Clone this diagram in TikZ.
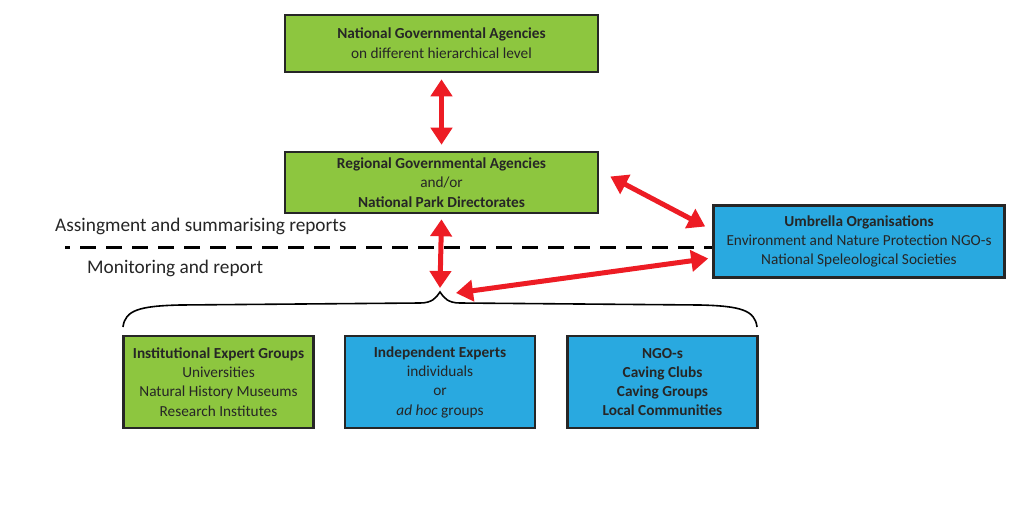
\documentclass[tikz,border=0pt]{standalone}
\usepackage{fontspec}
\setmainfont{Carlito}
\usetikzlibrary{arrows.meta,calc}
\definecolor{boxgreen}{HTML}{8DC63F}
\definecolor{boxblue}{HTML}{29A9E0}
\definecolor{arrred}{HTML}{ED1C24}
\definecolor{txt}{HTML}{262626}
\tikzset{
  box/.style={draw=black!85, line width=2.6pt, rectangle, align=center, text=txt,
    font=\fontsize{15.3}{19.3}\selectfont, inner sep=0pt},
  gbox/.style={box, fill=boxgreen},
  bbox/.style={box, fill=boxblue},
  redarrow/.style={draw=arrred, line width=5pt, {Triangle[width=21pt,length=17pt]}-{Triangle[width=21pt,length=17pt]}},
  sidelabel/.style={font=\fontsize{19.3}{22}\selectfont, text=txt, anchor=west, inner sep=0pt}
}
\begin{document}
\begin{tikzpicture}[x=1pt,y=-1pt]
\useasboundingbox[fill=white] (0,0) rectangle (1028,504);
\node[gbox, minimum width=313pt, minimum height=57pt, font=\fontsize{15.3}{20}\selectfont] (top) at (441.5,43.5)
  {\textbf{National Governmental Agencies}\\on different hierarchical level};
\node[gbox, minimum width=313pt, minimum height=61pt] (reg) at (441.5,182.5)
  {\textbf{Regional Governmental Agencies}\\and/or\\\textbf{National Park Directorates}};
\node[bbox, minimum width=291pt, minimum height=72pt] (umb) at (859,241.5)
  {\textbf{Umbrella Organisations}\\Environment and Nature Protection NGO-s\\National Speleological Societies};
\node[gbox, minimum width=190pt, minimum height=92pt] (inst) at (218.5,382)
  {\textbf{Institutional Expert Groups}\\Universities\\Natural History Museums\\Research Institutes};
\node[bbox, minimum width=190pt, minimum height=92pt] (ind) at (440,382)
  {\textbf{Independent Experts}\\individuals\\or\\\textit{ad hoc} groups};
\node[bbox, minimum width=190pt, minimum height=92pt] (ngo) at (662.5,382)
  {\textbf{NGO-s}\\\textbf{Caving Clubs}\\\textbf{Caving Groups}\\\textbf{Local Communities}};
\node[sidelabel] (lab1) at (55,226) {Assingment and summarising reports};
\node[sidelabel] (lab2) at (87,268) {Monitoring and report};
\coordinate (dstart) at (65,247);
\draw[black, line width=3pt, dash pattern=on 16pt off 10pt, dash phase=11pt] (dstart) -- (umb.west |- dstart);
\coordinate (tip) at (440,292);
\draw[black, line width=1.6pt]
  (123,327) .. controls (125,310) and (140,306) .. (180,305)
  -- (420,303) .. controls (432,303) and (436,298) .. (tip)
  .. controls (444,298) and (448,303) .. (460,303)
  -- (700,305) .. controls (740,306) and (755,310) .. (757,327);
\draw[redarrow] ($(top.south)+(0,6)$) -- ($(reg.north)+(0,-6)$);
\draw[redarrow] ($(reg.south)+(0,5)$) -- ($(tip)+(0,-4)$);
\draw[redarrow] ($(reg.east)+(11,-6)$) -- ($(umb.west)+(-7,-15)$);
\draw[redarrow] ($(tip)+(16,1)$) -- ($(umb.west)+(-4,17)$);
\end{tikzpicture}
\end{document}
